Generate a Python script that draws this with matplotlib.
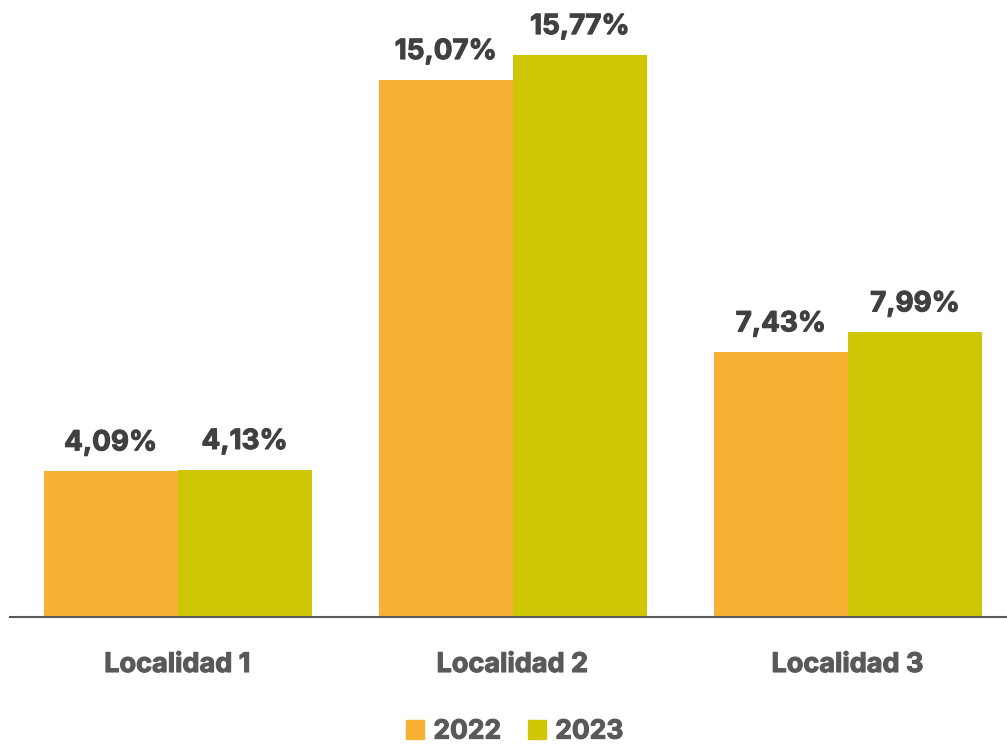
import matplotlib
matplotlib.use("Agg")
import matplotlib.pyplot as plt
from matplotlib.patches import Patch
from matplotlib.transforms import blended_transform_factory
import matplotlib.patheffects as pe
import numpy as np

categories = ["Localidad 1", "Localidad 2", "Localidad 3"]
series_names = ["2022", "2023"]
values_2022 = [4.09, 15.07, 7.43]
values_2023 = [4.13, 15.77, 7.99]
labels_2022 = ["4,09%", "15,07%", "7,43%"]
labels_2023 = ["4,13%", "15,77%", "7,99%"]

c2022 = "#F7B032"
c2023 = "#CFC706"
txt_dark = "#404040"
txt_mid = "#595959"

plt.rcParams['font.family'] = ['Inter', 'DejaVu Sans']

fig = plt.figure(figsize=(10.07, 7.45), dpi=100)
ax = fig.add_axes([10/1007, 128/745, 997/1007, 617/745])

x = np.arange(len(categories))
w = 0.4
b1 = ax.bar(x - w/2, values_2022, width=w, color=c2022, linewidth=0)
b2 = ax.bar(x + w/2, values_2023, width=w, color=c2023, linewidth=0)

for bars, labs in ((b1, labels_2022), (b2, labels_2023)):
    for rect, lab in zip(bars, labs):
        ax.annotate(lab, xy=(rect.get_x() + rect.get_width()/2, rect.get_height()),
                    xytext=(0, 15), textcoords="offset points", ha="center", va="baseline",
                    fontsize=20, fontweight="bold", color=txt_dark,
                    path_effects=[pe.withStroke(linewidth=0.8, foreground=txt_dark)])

trans = blended_transform_factory(ax.transData, ax.transAxes)
for xi, cat in zip(x, categories):
    ax.annotate(cat, xy=(xi, 0), xycoords=trans, xytext=(0, -39.6), textcoords="offset points",
                ha="center", va="baseline", fontsize=19.5, fontweight="bold", color=txt_mid,
                path_effects=[pe.withStroke(linewidth=0.8, foreground=txt_mid)])

ax.set_xlim(-0.5, 2.475)
ax.set_ylim(0, 17.31)
ax.set_xticks([])
ax.set_yticks([])
for s in ("top", "right", "left"):
    ax.spines[s].set_visible(False)
ax.spines["bottom"].set_color("#595959")
ax.spines["bottom"].set_linewidth(1.5)

handles = [Patch(color=c2022, label=series_names[0]), Patch(color=c2023, label=series_names[1])]
leg = fig.legend(handles=handles, loc="lower center", bbox_to_anchor=(0.511, -0.003), ncol=2,
                 frameon=False, handlelength=0.7, handleheight=0.7, handletextpad=0.35,
                 columnspacing=1.0, borderpad=0.1, borderaxespad=0.0,
                 prop={"size": 19, "weight": "bold"})
for t in leg.get_texts():
    t.set_color(txt_mid)
    t.set_path_effects([pe.withStroke(linewidth=0.8, foreground=txt_mid)])

fig.savefig("out.png", dpi=100)
